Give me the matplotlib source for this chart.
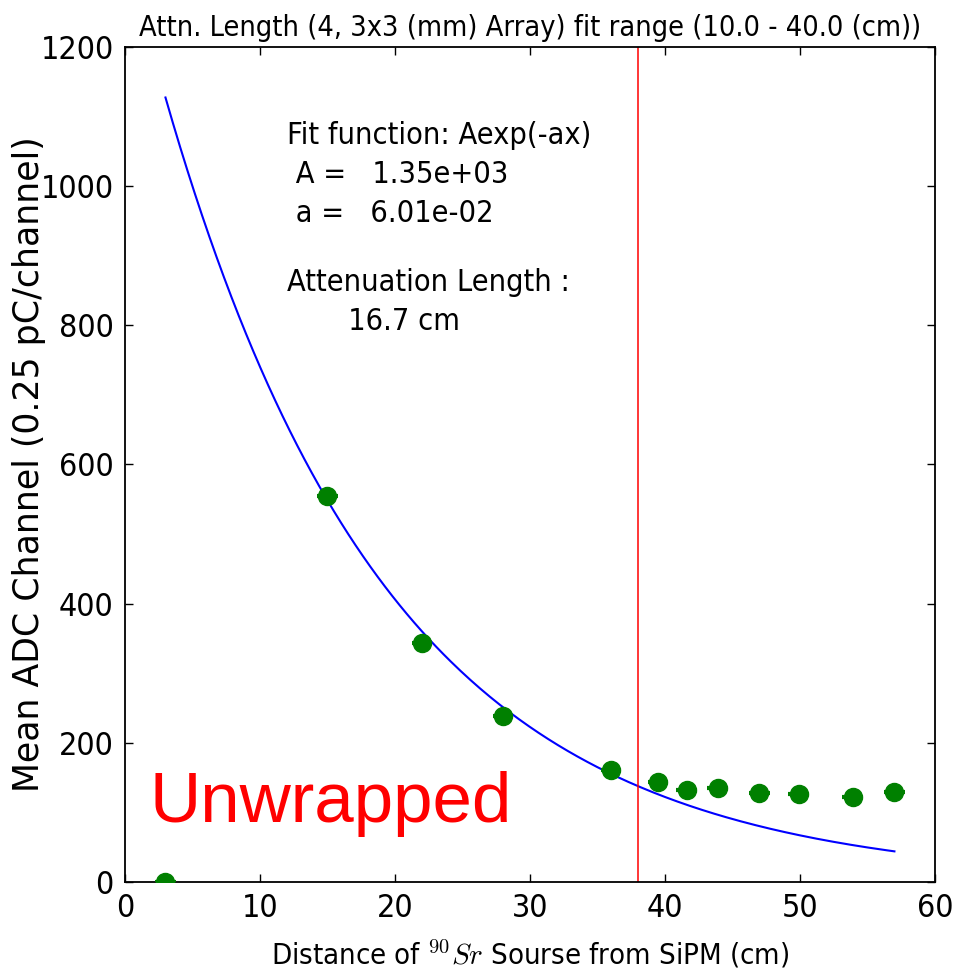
import numpy as np
import matplotlib
matplotlib.use('Agg')
import matplotlib.pyplot as plt

# source positions (cm) and mean ADC values
distance = [3, 15, 22, 28, 36, 39.5, 41.6, 43.9, 47.0, 49.9, 53.9, 57.0]
mean_adc = [0, 555, 343, 238, 161, 144, 132, 135, 128, 126, 122, 129]
x_err = 0.75
y_err = 12

# fit result A*exp(-a*x), fit window
fit_A = 1350.0
fit_a = 0.060055
fit_lo, fit_hi = 10.0, 40.0
cut_x = 38.0

plt.rcParams['font.family'] = ['DejaVu Sans']
plt.rcParams['mathtext.fontset'] = 'cm'
plt.rcParams['xtick.direction'] = 'in'
plt.rcParams['ytick.direction'] = 'in'
plt.rcParams['xtick.top'] = True
plt.rcParams['ytick.right'] = True

fig = plt.figure(figsize=(9.54, 9.75), dpi=100)
ax = fig.add_axes([0.131, 0.0954, 0.849, 0.8564])

ax.errorbar(distance, mean_adc, xerr=x_err, yerr=y_err, fmt='o', color='g',
            ecolor='g', elinewidth=3, markersize=13, capsize=0, zorder=3)

xf = np.linspace(distance[0], distance[-1], 300)
ax.plot(xf, fit_A * np.exp(-fit_a * xf), color='b', lw=1.5)
ax.axvline(cut_x, color='r', lw=1.1)

ax.set_xlim(0, 60)
ax.set_ylim(0, 1200)
ax.set_xticks(range(0, 61, 10))
ax.set_yticks(range(0, 1201, 200))
ax.tick_params(labelsize=23, length=6, width=1, pad=8)
for lab in ax.get_xticklabels() + ax.get_yticklabels():
    lab.set_fontstretch('condensed')
for s in ax.spines.values():
    s.set_linewidth(1.3)

ax.set_title('Attn. Length (4, 3x3 (mm) Array) fit range (%.1f - %.1f (cm))' % (fit_lo, fit_hi),
             fontsize=20.7, fontstretch='condensed', pad=8)
ax.set_xlabel(r'Distance of $^{90}Sr$ Sourse from SiPM (cm)', fontsize=21,
              fontstretch='condensed', labelpad=10)
ax.set_ylabel('Mean ADC Channel (0.25 pC/channel)', fontsize=25, labelpad=-4)

ax.text(12.0, 1093, 'Fit function: Aexp(-ax)\n A =   %.2e\n a =   %.2e' % (fit_A, fit_a),
        fontsize=22, fontstretch='condensed', va='top', ha='left', linespacing=1.43)
ax.text(12.0, 882, 'Attenuation Length :\n       %.1f cm' % (1.0 / fit_a),
        fontsize=22, fontstretch='condensed', va='top', ha='left', linespacing=1.43)

fig.text(0.157, 0.157, 'Unwrapped', color='red', fontsize=51,
         family='Liberation Sans', ha='left', va='baseline')

fig.savefig('out.png', dpi=100)
